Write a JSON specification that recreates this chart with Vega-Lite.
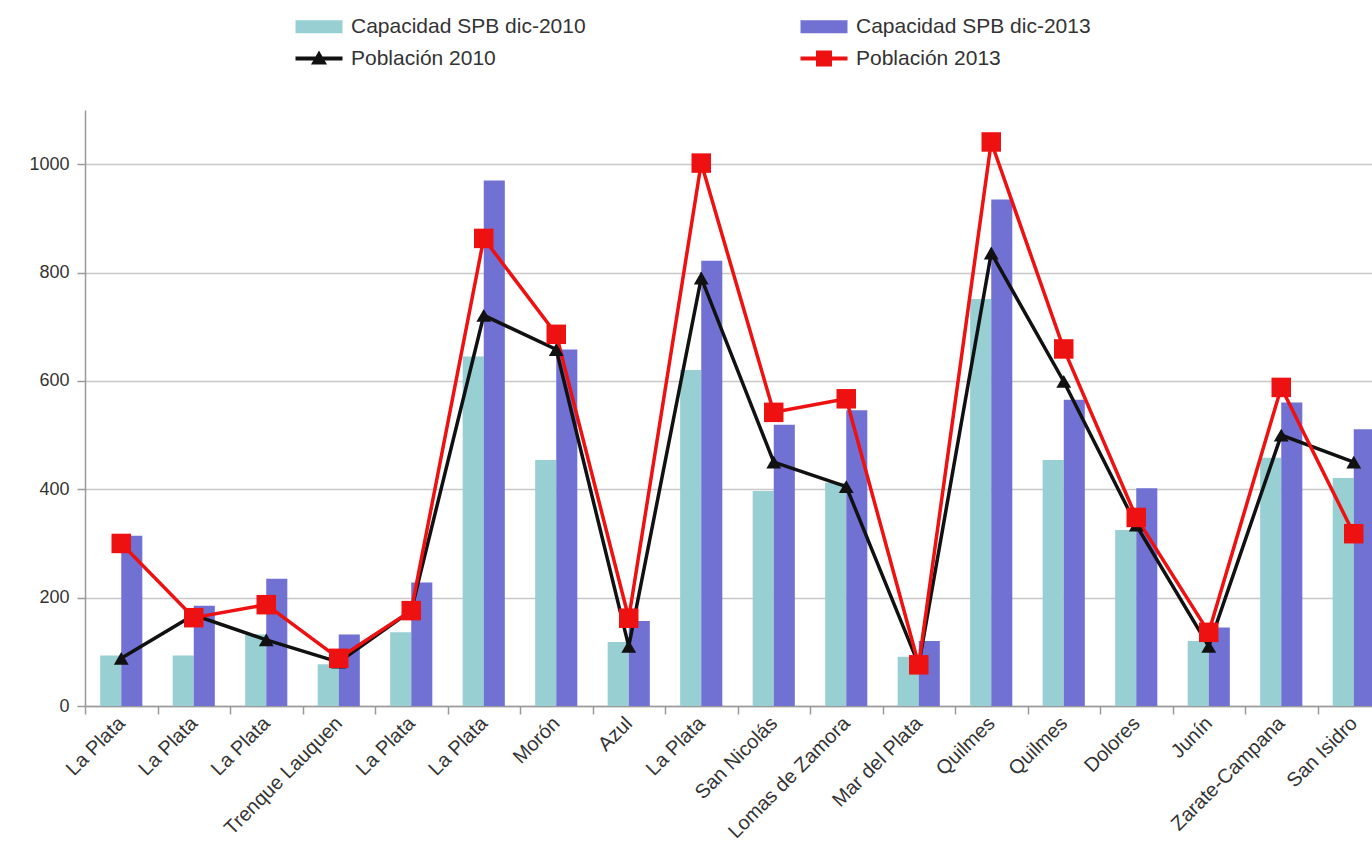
{
  "$schema": "https://vega.github.io/schema/vega-lite/v6.json",
  "autosize": {"type": "none"},
  "padding": {"left": 85, "top": 110, "right": 0, "bottom": 157},
  "width": 1305,
  "height": 596,
  "background": "white",
  "config": {"view": {"stroke": null}, "font": "Liberation Sans"},
  "data": {"values": [
    {"i": 1, "Capacidad SPB dic-2010": 93, "Capacidad SPB dic-2013": 314, "Población 2010": 88, "Población 2013": 300},
    {"i": 2, "Capacidad SPB dic-2010": 93, "Capacidad SPB dic-2013": 185, "Población 2010": 168, "Población 2013": 163},
    {"i": 3, "Capacidad SPB dic-2010": 132, "Capacidad SPB dic-2013": 235, "Población 2010": 122, "Población 2013": 187},
    {"i": 4, "Capacidad SPB dic-2010": 77, "Capacidad SPB dic-2013": 132, "Población 2010": 81, "Población 2013": 88},
    {"i": 5, "Capacidad SPB dic-2010": 136, "Capacidad SPB dic-2013": 228, "Población 2010": 176, "Población 2013": 176},
    {"i": 6, "Capacidad SPB dic-2010": 645, "Capacidad SPB dic-2013": 970, "Población 2010": 721, "Población 2013": 863},
    {"i": 7, "Capacidad SPB dic-2010": 454, "Capacidad SPB dic-2013": 658, "Población 2010": 658, "Población 2013": 686},
    {"i": 8, "Capacidad SPB dic-2010": 118, "Capacidad SPB dic-2013": 157, "Población 2010": 110, "Población 2013": 162},
    {"i": 9, "Capacidad SPB dic-2010": 620, "Capacidad SPB dic-2013": 822, "Población 2010": 790, "Población 2013": 1002},
    {"i": 10, "Capacidad SPB dic-2010": 397, "Capacidad SPB dic-2013": 519, "Población 2010": 450, "Población 2013": 542},
    {"i": 11, "Capacidad SPB dic-2010": 412, "Capacidad SPB dic-2013": 546, "Población 2010": 405, "Población 2013": 567},
    {"i": 12, "Capacidad SPB dic-2010": 91, "Capacidad SPB dic-2013": 120, "Población 2010": 76, "Población 2013": 76},
    {"i": 13, "Capacidad SPB dic-2010": 751, "Capacidad SPB dic-2013": 935, "Población 2010": 836, "Población 2013": 1041},
    {"i": 14, "Capacidad SPB dic-2010": 454, "Capacidad SPB dic-2013": 565, "Población 2010": 599, "Población 2013": 659},
    {"i": 15, "Capacidad SPB dic-2010": 325, "Capacidad SPB dic-2013": 402, "Población 2010": 334, "Población 2013": 348},
    {"i": 16, "Capacidad SPB dic-2010": 120, "Capacidad SPB dic-2013": 145, "Población 2010": 110, "Población 2013": 136},
    {"i": 17, "Capacidad SPB dic-2010": 458, "Capacidad SPB dic-2013": 560, "Población 2010": 500, "Población 2013": 588},
    {"i": 18, "Capacidad SPB dic-2010": 421, "Capacidad SPB dic-2013": 511, "Población 2010": 450, "Población 2013": 318}
  ]},
  "transform": [
    {"fold": ["Capacidad SPB dic-2010", "Capacidad SPB dic-2013", "Población 2010", "Población 2013"], "as": ["serie", "v"]}
  ],
  "encoding": {
    "x": {
      "field": "i", "type": "ordinal",
      "scale": {"paddingInner": 0, "paddingOuter": 0},
      "axis": {
        "title": null,
        "labelExpr": "['La Plata','La Plata','La Plata','Trenque Lauquen','La Plata','La Plata','Morón','Azul','La Plata','San Nicolás','Lomas de Zamora','Mar del Plata','Quilmes','Quilmes','Dolores','Junín','Zarate-Campana','San Isidro'][datum.value-1]",
        "labelAngle": -45, "labelAlign": "right", "labelBaseline": "middle",
        "labelFontSize": 20, "labelColor": "#333333", "labelPadding": 6,
        "labelOverlap": false, "labelFlush": false,
        "tickBand": "extent", "tickSize": 8, "tickColor": "#999999", "tickWidth": 1.5,
        "domainColor": "#999999", "domainWidth": 1.5, "grid": false
      }
    },
    "y": {
      "field": "v", "type": "quantitative",
      "scale": {"domain": [0, 1100], "nice": false},
      "axis": {
        "title": null, "values": [0, 200, 400, 600, 800, 1000], "format": "d",
        "grid": true, "gridColor": "#c8c8c8", "gridWidth": 1.5,
        "tickSize": 8, "tickColor": "#999999", "tickWidth": 1.5,
        "domainColor": "#999999", "domainWidth": 1.5,
        "labelFontSize": 18, "labelColor": "#333333", "labelPadding": 8
      }
    },
    "color": {
      "field": "serie", "type": "nominal",
      "scale": {
        "domain": ["Capacidad SPB dic-2010", "Capacidad SPB dic-2013", "Población 2010", "Población 2013"],
        "range": ["#97cfd2", "#7171d3", "#111111", "#ee1111"]
      },
      "legend": {
        "orient": "none", "legendX": 210, "legendY": -94,
        "direction": "horizontal", "columns": 2, "title": null, "padding": 0,
        "labelFontSize": 21, "labelColor": "#333333", "labelLimit": 500,
        "symbolSize": 400, "labelOffset": 35, "columnPadding": 214, "rowPadding": 10,
        "encode": {
          "symbols": {
            "update": {
              "shape": {"signal": "datum.value == 'Población 2010' ? 'M-1,-0.2H3.7V0.2H-1ZM1.35,-0.8L2.15,0.6H0.55Z' : datum.value == 'Población 2013' ? 'M-1,-0.2H3.7V0.2H-1ZM0.55,-0.8H2.15V0.8H0.55Z' : 'M-1,-0.65H3.7V0.65H-1Z'"},
              "fill": {"scale": "color", "field": "value"},
              "stroke": {"value": "transparent"},
              "strokeWidth": {"value": 0},
              "opacity": {"value": 1}
            }
          }
        }
      }
    }
  },
  "layer": [
    {
      "transform": [{"filter": "indexof(datum.serie, 'Capacidad') == 0"}],
      "mark": {"type": "bar"},
      "encoding": {
        "xOffset": {"field": "serie", "scale": {"paddingOuter": 0.72, "paddingInner": 0}}
      }
    },
    {
      "transform": [{"filter": "indexof(datum.serie, 'Población') == 0"}],
      "mark": {"type": "line", "strokeWidth": 3.5}
    },
    {
      "transform": [{"filter": "datum.serie == 'Población 2010'"}],
      "mark": {"type": "point", "shape": "triangle-up", "filled": true, "size": 220, "opacity": 1}
    },
    {
      "transform": [{"filter": "datum.serie == 'Población 2013'"}],
      "mark": {"type": "point", "shape": "square", "filled": true, "size": 380, "opacity": 1}
    }
  ]
}
